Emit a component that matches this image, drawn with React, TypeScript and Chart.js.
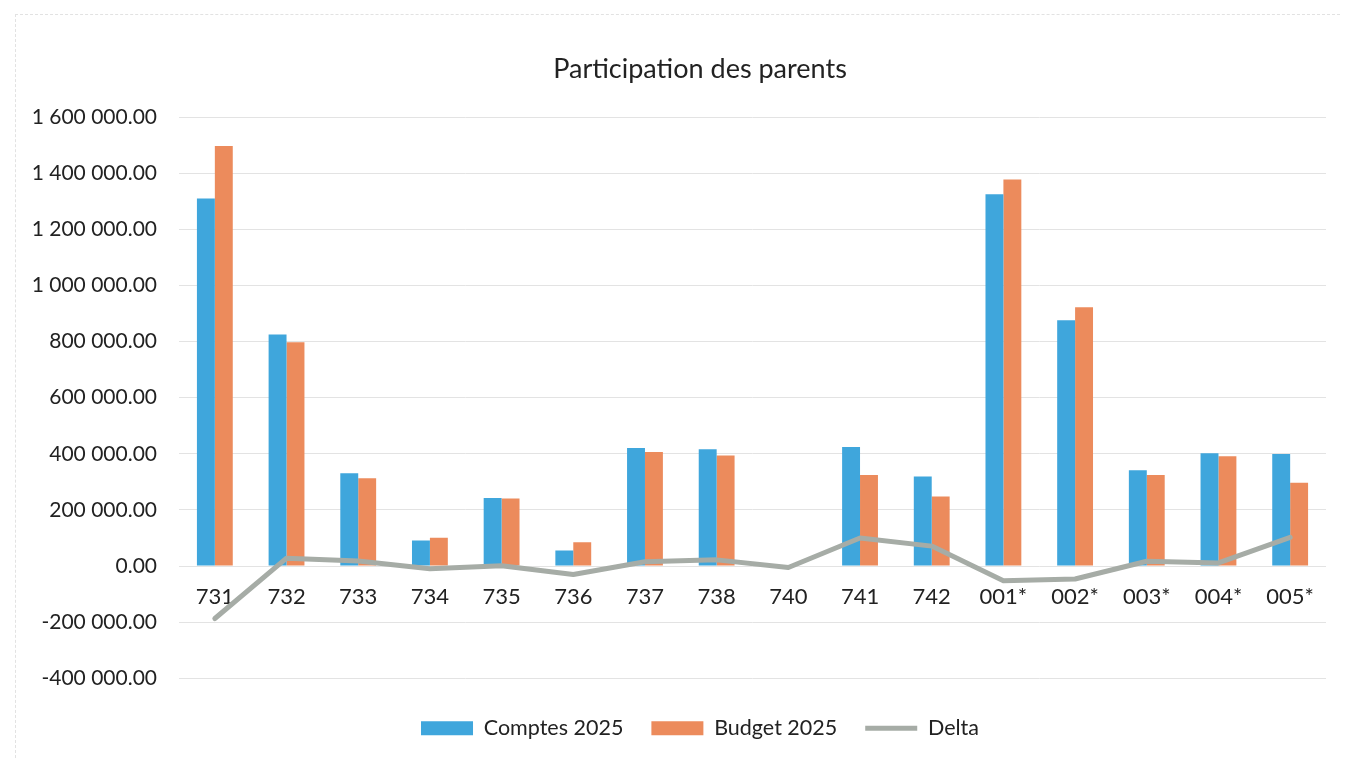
import { useEffect, useRef } from 'react';
import { Chart, registerables } from 'chart.js';

Chart.register(...registerables);

const categories = ['731', '732', '733', '734', '735', '736', '737', '738', '740', '741', '742', '001*', '002*', '003*', '004*', '005*'];
const comptes2025 = [1310000, 825000, 331000, 91000, 242000, 55000, 421000, 416000, 0, 424000, 319000, 1325000, 876000, 341000, 402000, 399000];
const budget2025 = [1497000, 797000, 313000, 101000, 241000, 85000, 406000, 394000, 0, 324000, 248000, 1377000, 922000, 324000, 391000, 297000];
const delta = [-187000, 28000, 18000, -10000, 1000, -30000, 15000, 22000, -5000, 100000, 71000, -52000, -46000, 17000, 11000, 102000];

const yMin = -400000;
const yMax = 1600000;
const yStep = 200000;

const FONT = 'Lato, "Open Sans", sans-serif';
const TEXT = '#222222';
const BLUE = '#3fa6dc';
const ORANGE = '#ec8b5c';
const GRAY = '#a6aca6';

function formatAmount(v: number): string {
  const neg = v < 0;
  const abs = Math.abs(Math.round(v));
  const s = abs.toString().replace(/\B(?=(\d{3})+(?!\d))/g, ' ');
  return (neg ? '-' : '') + s + '.00';
}

export default function App() {
  const ref = useRef<HTMLCanvasElement | null>(null);

  useEffect(() => {
    if (!ref.current) return;
    const chart = new Chart(ref.current, {
      type: 'bar',
      data: {
        labels: categories,
        datasets: [
          {
            type: 'bar',
            label: 'Comptes 2025',
            data: comptes2025,
            backgroundColor: BLUE,
            borderWidth: 0,
            categoryPercentage: 0.5,
            barPercentage: 1,
            order: 1,
            pointStyle: 'rect',
          } as any,
          {
            type: 'bar',
            label: 'Budget 2025',
            data: budget2025,
            backgroundColor: ORANGE,
            borderWidth: 0,
            categoryPercentage: 0.5,
            barPercentage: 1,
            order: 1,
            pointStyle: 'rect',
          } as any,
          {
            type: 'line',
            label: 'Delta',
            data: delta,
            borderColor: GRAY,
            backgroundColor: GRAY,
            borderWidth: 5,
            pointRadius: 0,
            pointHoverRadius: 0,
            pointStyle: 'line',
            borderCapStyle: 'round',
            borderJoinStyle: 'round',
            tension: 0,
            order: 0,
          } as any,
        ],
      },
      options: {
        animation: false,
        responsive: true,
        maintainAspectRatio: false,
        layout: { padding: { left: 0, right: 0, top: 0, bottom: 9 } },
        plugins: {
          title: {
            display: true,
            text: 'Participation des parents',
            color: TEXT,
            font: { family: FONT, size: 27, weight: 'normal' },
            padding: { top: 53, bottom: 31.6 },
          },
          legend: {
            position: 'bottom',
            title: { display: true, text: '', font: { size: 1 }, padding: { top: 10, bottom: 0 } },
            labels: {
              usePointStyle: true,
              pointStyleWidth: 52,
              boxHeight: 14,
              padding: 28,
              color: TEXT,
              font: { family: FONT, size: 21.5 },
              sort: (a: any, b: any) => a.datasetIndex - b.datasetIndex,
            },
          },
          tooltip: { enabled: false },
        },
        scales: {
          x: {
            type: 'category',
            position: { y: 0 } as any,
            grid: { display: false },
            border: { display: false },
            ticks: {
              color: TEXT,
              font: { family: FONT, size: 22 },
              padding: 10,
              maxRotation: 0,
              autoSkip: false,
            },
          },
          y: {
            min: yMin,
            max: yMax,
            ticks: {
              stepSize: yStep,
              callback: (v: any) => formatAmount(Number(v)),
              color: TEXT,
              font: { family: FONT, size: 21 },
              padding: 22,
            },
            grid: { color: '#e3e3e3', drawTicks: false },
            border: { display: false },
            afterFit: (s: any) => {
              s.width = 179;
            },
          },
          yRight: {
            type: 'linear',
            position: 'right',
            display: true,
            grid: { display: false },
            border: { display: false },
            ticks: { display: false },
            afterFit: (s: any) => {
              s.width = 74;
            },
          },
        },
      } as any,
    });
    return () => chart.destroy();
  }, []);

  return (
    <div style={{ position: 'fixed', left: 0, top: 0, width: 1346, height: 758, background: '#ffffff', overflow: 'hidden' }}>
      <div
        style={{
          position: 'absolute',
          left: 15,
          top: 14,
          right: 6,
          bottom: 0,
          borderLeft: '1px dashed #e2e2e2',
          borderTop: '1px dashed #e2e2e2',
        }}
      />
      <div style={{ position: 'absolute', left: 0, top: 0, width: 1400, height: 758 }}>
        <canvas ref={ref} />
      </div>
    </div>
  );
}
